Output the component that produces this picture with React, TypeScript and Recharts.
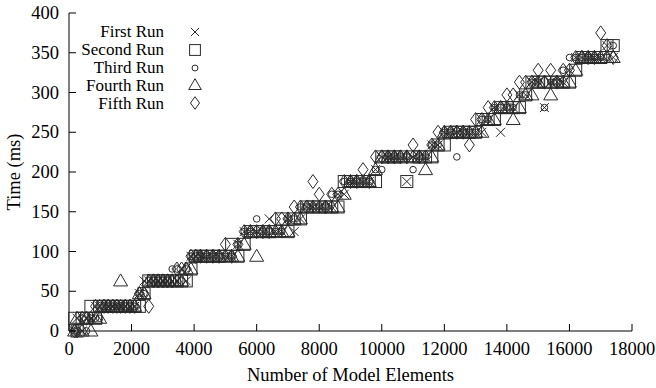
import { ScatterChart, Scatter, XAxis, YAxis, Legend } from 'recharts';

// model sizes (shared by all five runs)
const modelElements = [
  180, 260, 420, 560, 700, 850, 980, 1120, 1250, 1400,
  1530, 1650, 1800, 1950, 2100, 2250, 2400, 2550, 2700, 2850,
  3000, 3150, 3300, 3450, 3600, 3750, 3900, 4050, 4200, 4400,
  4600, 4800, 5000, 5200, 5400, 5600, 5800, 6000, 6200, 6400,
  6600, 6800, 7000, 7200, 7400, 7600, 7800, 8000, 8200, 8400,
  8600, 8800, 9000, 9200, 9400, 9600, 9800, 10000, 10200, 10400,
  10600, 10800, 11000, 11200, 11400, 11600, 11800, 12000, 12200, 12400,
  12600, 12800, 13000, 13200, 13400, 13600, 13800, 14000, 14200, 14400,
  14600, 14800, 15000, 15200, 15400, 15600, 15800, 16000, 16200, 16400,
  16600, 16800, 17000, 17200, 17400,
];

// times in ms
const firstRun = [
  0, 16, 0, 16, 16, 31, 31, 31, 31, 31,
  31, 31, 31, 31, 31, 47, 63, 63, 63, 63,
  63, 63, 63, 63, 78, 63, 94, 94, 94, 94,
  94, 94, 94, 94, 109, 125, 125, 125, 125, 141,
  125, 125, 141, 125, 141, 156, 156, 156, 156, 156,
  172, 172, 188, 188, 188, 188, 203, 219, 219, 219,
  219, 188, 219, 219, 219, 234, 234, 250, 250, 250,
  250, 250, 250, 250, 266, 281, 250, 281, 281, 297,
  297, 313, 313, 281, 313, 313, 313, 328, 344, 344,
  344, 344, 344, 359, 344,
];
const secondRun = [
  16, 0, 16, 16, 31, 16, 31, 31, 31, 31,
  31, 31, 31, 31, 31, 31, 47, 63, 63, 63,
  63, 63, 63, 63, 63, 63, 78, 94, 94, 94,
  94, 94, 94, 109, 94, 109, 125, 125, 125, 125,
  125, 141, 125, 141, 141, 156, 156, 156, 156, 156,
  156, 188, 188, 188, 188, 188, 188, 219, 219, 219,
  219, 188, 219, 219, 219, 219, 234, 234, 250, 250,
  250, 250, 250, 266, 266, 266, 281, 281, 281, 281,
  297, 313, 313, 313, 313, 313, 313, 313, 328, 344,
  344, 344, 344, 359, 359,
];
const thirdRun = [
  0, 0, 16, 0, 16, 16, 16, 31, 31, 31,
  31, 31, 31, 31, 31, 47, 47, 63, 63, 63,
  63, 63, 78, 78, 63, 78, 94, 94, 94, 94,
  94, 94, 94, 94, 109, 125, 125, 141, 125, 125,
  125, 125, 141, 141, 156, 156, 156, 156, 156, 172,
  172, 188, 188, 188, 188, 188, 203, 203, 219, 219,
  219, 219, 203, 219, 219, 234, 234, 250, 250, 219,
  250, 250, 250, 266, 266, 281, 281, 281, 281, 297,
  297, 313, 313, 281, 313, 313, 328, 344, 344, 344,
  344, 344, 344, 344, 359,
];
const fourthRun = [
  0, 16, 0, 16, 0, 16, 16, 31, 31, 31,
  31, 63, 31, 31, 31, 47, 47, 63, 63, 63,
  63, 63, 63, 63, 63, 78, 78, 94, 94, 94,
  94, 94, 94, 94, 94, 109, 125, 94, 125, 125,
  125, 125, 125, 141, 141, 156, 156, 156, 156, 156,
  156, 172, 188, 188, 188, 188, 203, 219, 219, 219,
  219, 219, 219, 219, 203, 219, 234, 250, 250, 250,
  250, 250, 250, 250, 266, 266, 281, 281, 266, 281,
  297, 297, 313, 313, 297, 313, 313, 313, 328, 344,
  344, 344, 344, 344, 344,
];
const fifthRun = [
  0, 0, 16, 16, 16, 31, 31, 31, 31, 31,
  31, 31, 31, 31, 31, 47, 47, 31, 63, 63,
  63, 63, 63, 78, 78, 78, 94, 94, 94, 94,
  94, 94, 109, 94, 109, 125, 125, 125, 125, 125,
  141, 141, 141, 156, 156, 156, 188, 172, 156, 172,
  172, 188, 188, 188, 203, 188, 219, 219, 219, 219,
  219, 219, 234, 219, 219, 234, 250, 250, 250, 250,
  250, 234, 266, 266, 281, 281, 281, 297, 297, 313,
  313, 313, 328, 313, 328, 313, 328, 328, 344, 344,
  344, 344, 375, 359, 344,
];

const xTicks = [0, 2000, 4000, 6000, 8000, 10000, 12000, 14000, 16000, 18000];
const yTicks = [0, 50, 100, 150, 200, 250, 300, 350, 400];

const FONT = '"Liberation Serif", "Times New Roman", serif';
const FONT_SIZE = 18.5;
const LEGEND_FONT_SIZE = 17;
const INK = '#2a2a2a';
const TICK_LEN = 7;

type Kind = 'cross' | 'square' | 'circle' | 'triangle' | 'diamond';

const Marker = ({ kind, cx, cy, k = 1 }: { kind: Kind; cx: number; cy: number; k?: number }) => {
  const common = { fill: 'none', stroke: INK, strokeWidth: 1 };
  if (kind === 'cross') {
    const h = 4.5 * k;
    return <path {...common} d={`M${cx - h},${cy - h}L${cx + h},${cy + h}M${cx - h},${cy + h}L${cx + h},${cy - h}`} />;
  }
  if (kind === 'square') {
    const h = 6 * k;
    return <rect {...common} x={cx - h} y={cy - h} width={2 * h} height={2 * h} />;
  }
  if (kind === 'circle') {
    return <circle {...common} cx={cx} cy={cy} r={3.3 * k} />;
  }
  if (kind === 'triangle') {
    const w = 7 * k;
    return <path {...common} d={`M${cx},${cy - 7 * k}L${cx - w},${cy + 5 * k}L${cx + w},${cy + 5 * k}Z`} />;
  }
  return <path {...common} d={`M${cx},${cy - 7 * k}L${cx + 5 * k},${cy}L${cx},${cy + 7 * k}L${cx - 5 * k},${cy}Z`} />;
};

const toPoints = (times: number[]) => times.map((t, i) => ({ elements: modelElements[i], time: t }));

const series: { name: string; kind: Kind; data: { elements: number; time: number }[] }[] = [
  { name: 'First Run', kind: 'cross', data: toPoints(firstRun) },
  { name: 'Second Run', kind: 'square', data: toPoints(secondRun) },
  { name: 'Third Run', kind: 'circle', data: toPoints(thirdRun) },
  { name: 'Fourth Run', kind: 'triangle', data: toPoints(fourthRun) },
  { name: 'Fifth Run', kind: 'diamond', data: toPoints(fifthRun) },
];

const textStyle = { fontFamily: FONT, fontSize: FONT_SIZE, fill: '#000' };

// bottom axis: tickSize 0, tickMargin 10 -> y is plot bottom + 10
const BottomTick = ({ x, y, payload }: any) => (
  <g>
    <line x1={x} x2={x} y1={y - 10} y2={y - 10 - TICK_LEN} stroke="#000" />
    <text x={x} y={y} dy={14} textAnchor="middle" {...textStyle}>{payload.value}</text>
  </g>
);
const TopTick = ({ x, y }: any) => <line x1={x} x2={x} y1={y} y2={y + TICK_LEN} stroke="#000" />;
const LeftTick = ({ x, y, payload }: any) => (
  <g>
    <line x1={x + 10} x2={x + 10 + TICK_LEN} y1={y} y2={y} stroke="#000" />
    <text x={x} y={y} dy={6} textAnchor="end" {...textStyle}>{payload.value}</text>
  </g>
);
const RightTick = ({ x, y }: any) => <line x1={x} x2={x - TICK_LEN} y1={y} y2={y} stroke="#000" />;

const LegendBox = () => (
  <div style={{ fontFamily: FONT, fontSize: LEGEND_FONT_SIZE, color: '#000' }}>
    {series.map((s) => (
      <div key={s.name} style={{ display: 'flex', alignItems: 'center', height: 17.8 }}>
        <span style={{ width: 94, textAlign: 'right', lineHeight: '17px', whiteSpace: 'nowrap' }}>{s.name}</span>
        <svg width={30} height={18} style={{ marginLeft: 16, overflow: 'visible' }}>
          <Marker kind={s.kind} cx={15} cy={9} k={0.9} />
        </svg>
      </div>
    ))}
  </div>
);

export default function App() {
  return (
    <div style={{ position: 'absolute', left: 0, top: 0, background: '#fff' }}>
      <ScatterChart width={656} height={388} margin={{ top: 13, right: 24, bottom: 7, left: 9 }}>
        <XAxis
          dataKey="elements"
          type="number"
          domain={[0, 18000]}
          ticks={xTicks}
          interval={0}
          height={50}
          tickSize={0}
          tickMargin={10}
          tickLine={false}
          axisLine={{ stroke: '#000' }}
          tick={<BottomTick />}
          label={{ value: 'Number of Model Elements', position: 'insideBottom', offset: 0, style: textStyle }}
        />
        <XAxis
          xAxisId="top"
          orientation="top"
          type="number"
          domain={[0, 18000]}
          ticks={xTicks}
          interval={0}
          height={0}
          tickSize={0}
          tickMargin={0}
          tickLine={false}
          axisLine={{ stroke: '#000' }}
          tick={<TopTick />}
        />
        <YAxis
          dataKey="time"
          type="number"
          domain={[0, 400]}
          ticks={yTicks}
          interval={0}
          width={60}
          tickSize={0}
          tickMargin={10}
          tickLine={false}
          axisLine={{ stroke: '#000' }}
          tick={<LeftTick />}
          label={{
            value: 'Time (ms)',
            angle: -90,
            position: 'insideLeft',
            offset: 4,
            style: { ...textStyle, textAnchor: 'middle' },
          }}
        />
        <YAxis
          yAxisId="right"
          orientation="right"
          type="number"
          domain={[0, 400]}
          ticks={yTicks}
          interval={0}
          width={0}
          tickSize={0}
          tickMargin={0}
          tickLine={false}
          axisLine={{ stroke: '#000' }}
          tick={<RightTick />}
        />
        <Legend
          layout="horizontal"
          align="center"
          verticalAlign="middle"
          content={<LegendBox />}
          wrapperStyle={{ left: 70, top: 23, width: 160, height: 90 }}
        />
        {series.map((s) => (
          <Scatter
            key={s.name}
            name={s.name}
            data={s.data}
            isAnimationActive={false}
            shape={(p: any) => <Marker kind={s.kind} cx={p.cx} cy={p.cy} />}
          />
        ))}
      </ScatterChart>
    </div>
  );
}
